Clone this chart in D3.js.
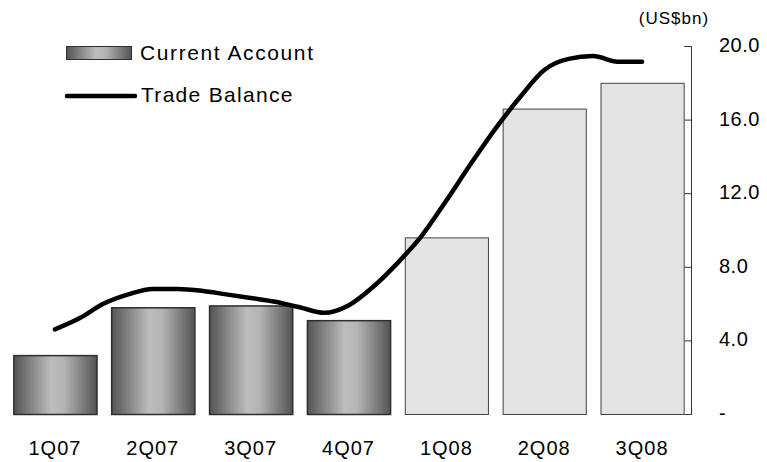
<!DOCTYPE html>
<html>
<head>
<meta charset="utf-8">
<script src="https://cdn.jsdelivr.net/npm/d3@7"></script>
<style>
  html, body { margin: 0; padding: 0; background: #fff; }
  svg text { font-family: "Liberation Sans", Arial, sans-serif; fill: #000; }
</style>
</head>
<body>
<div id="chart"></div>
<script>
// quarters on the x axis
const quarters = ['1Q07', '2Q07', '3Q07', '4Q07', '1Q08', '2Q08', '3Q08'];
// current account, US$bn (first four shaded, 2008 ones plain)
const currentAccount = [3.2, 5.8, 5.9, 5.1, 9.6, 16.6, 18.0];
const shaded = [true, true, true, true, false, false, false];
const tradeBalance = [4.6, 5.2, 6.0, 6.5, 6.8, 6.8, 6.7, 6.5, 6.3, 6.1, 5.8, 5.5,
  5.9, 6.9, 8.2, 9.7, 11.6, 13.6, 15.5, 17.2, 18.7, 19.3, 19.45, 19.15, 19.15];
const yTicks = [0, 4, 8, 12, 16, 20];

const width = 767, height = 462;
const plot = { left: 6, right: 691, top: 46, bottom: 414 };

const svg = d3.select('#chart').append('svg')
  .attr('width', width)
  .attr('height', height);

const defs = svg.append('defs');
const grad = defs.append('linearGradient')
  .attr('id', 'barGrad')
  .attr('x1', '0%').attr('x2', '100%').attr('y1', '0%').attr('y2', '0%');
grad.append('stop').attr('offset', '0%').attr('stop-color', '#545454');
grad.append('stop').attr('offset', '45%').attr('stop-color', '#bdbdbd');
grad.append('stop').attr('offset', '60%').attr('stop-color', '#b4b4b4');
grad.append('stop').attr('offset', '100%').attr('stop-color', '#545454');

const x = d3.scaleBand()
  .domain(quarters)
  .range([plot.left, plot.right])
  .paddingInner(0.15)
  .paddingOuter(0.075);

const y = d3.scaleLinear()
  .domain([0, 20])
  .range([plot.bottom, plot.top]);

// bars
svg.append('g').selectAll('rect')
  .data(quarters)
  .join('rect')
  .attr('x', d => x(d) + 0.5)
  .attr('y', (d, i) => y(currentAccount[i]) + 0.5)
  .attr('width', x.bandwidth())
  .attr('height', (d, i) => y(0) - y(currentAccount[i]))
  .attr('fill', (d, i) => shaded[i] ? 'url(#barGrad)' : '#e3e3e3')
  .attr('stroke', (d, i) => shaded[i] ? '#2e2e2e' : '#444')
  .attr('stroke-width', (d, i) => shaded[i] ? 1.5 : 1);

// trade balance line
const xLine = d3.scaleLinear()
  .domain([0, tradeBalance.length - 1])
  .range([x(quarters[0]) + x.bandwidth() / 2, x(quarters[quarters.length - 1]) + x.bandwidth() / 2]);

const line = d3.line()
  .x((d, i) => xLine(i))
  .y(d => y(d))
  .curve(d3.curveMonotoneX);

svg.append('path')
  .datum(tradeBalance)
  .attr('d', line)
  .attr('fill', 'none')
  .attr('stroke', '#000')
  .attr('stroke-width', 4.5)
  .attr('stroke-linecap', 'round')
  .attr('stroke-linejoin', 'round');

// right axis, ticks pointing inward
const axis = d3.axisLeft(y)
  .tickValues(yTicks)
  .tickSize(7)
  .tickFormat('');

const axisG = svg.append('g')
  .attr('transform', `translate(${plot.right + 0.5},0)`)
  .call(axis);
axisG.select('.domain')
  .attr('stroke', '#333')
  .attr('d', `M-7,${y(20) + 0.5}H0V${y(0) + 0.5}H-7`);
axisG.selectAll('.tick line').attr('stroke', '#333');

svg.append('g').selectAll('text')
  .data(yTicks)
  .join('text')
  .attr('x', 719)
  .attr('y', d => y(d) + 6)
  .style('font-size', '20px')
  .style('letter-spacing', '0.5px')
  .text(d => d === 0 ? '-' : d3.format('.1f')(d));

svg.append('text')
  .attr('x', 674)
  .attr('y', 24)
  .attr('text-anchor', 'middle')
  .style('font-size', '17px')
  .style('letter-spacing', '1px')
  .text('(US$bn)');

// category labels
svg.append('g').selectAll('text')
  .data(quarters)
  .join('text')
  .attr('x', d => x(d) + x.bandwidth() / 2)
  .attr('y', 455)
  .attr('text-anchor', 'middle')
  .style('font-size', '20px')
  .style('letter-spacing', '1px')
  .text(d => d);

// legend
const legend = svg.append('g');
legend.append('rect')
  .attr('x', 66.5).attr('y', 46.5)
  .attr('width', 65).attr('height', 13)
  .attr('fill', 'url(#barGrad)')
  .attr('stroke', '#2e2e2e');
legend.append('text')
  .attr('x', 140).attr('y', 60)
  .style('font-size', '21px')
  .style('letter-spacing', '1.6px')
  .text('Current Account');
legend.append('line')
  .attr('x1', 67).attr('x2', 135)
  .attr('y1', 96).attr('y2', 96)
  .attr('stroke', '#000')
  .attr('stroke-width', 4.5)
  .attr('stroke-linecap', 'round');
legend.append('text')
  .attr('x', 141).attr('y', 102)
  .style('font-size', '21px')
  .style('letter-spacing', '1.3px')
  .text('Trade Balance');
</script>
</body>
</html>
